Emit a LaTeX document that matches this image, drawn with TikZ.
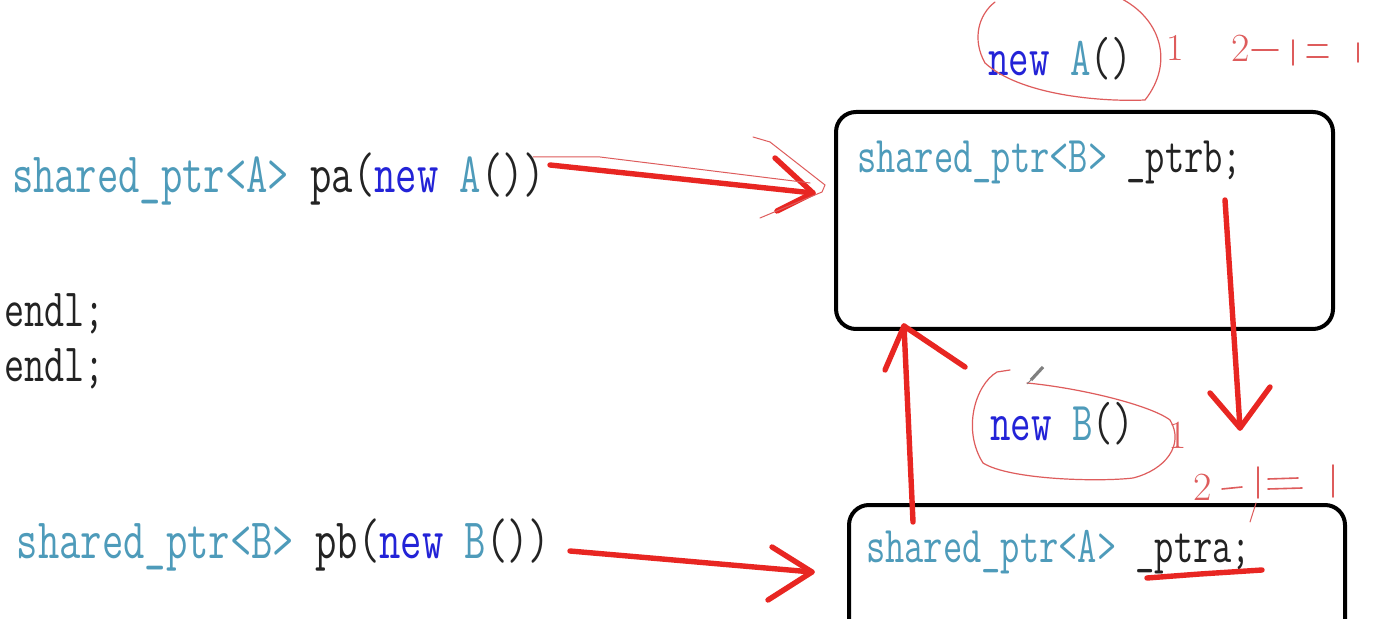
\documentclass[tikz,border=0pt]{standalone}
\usepackage{fontspec}
\usepackage{graphicx}
\newfontfamily\cjk{Noto Sans CJK SC}
\definecolor{teal1}{RGB}{78,155,186}
\definecolor{newblue}{RGB}{35,35,215}
\definecolor{darktext}{RGB}{35,35,35}
\definecolor{redink}{RGB}{232,38,34}
\definecolor{thinink}{RGB}{222,92,92}
\newcommand\codetxt[2]{\scalebox{1}[1.38]{\fontsize{#1}{#1}\selectfont\ttfamily #2}}
\newcommand\tl[1]{\textcolor{teal1}{#1}}
\newcommand\nb[1]{\textcolor{newblue}{#1}}
\newcommand\dk[1]{\textcolor{darktext}{#1}}
\tikzset{
  codenode/.style={anchor=base west, inner sep=0pt, outer sep=0pt},
  boxframe/.style={draw=black, line width=2pt, rounded corners=10pt, inner sep=0pt},
  redstroke/.style={draw=redink, line width=2.7pt, line cap=round, line join=round},
  thinred/.style={draw=thinink, line width=0.5pt, line cap=round},
  handred/.style={draw=thinink, line width=0.8pt, line cap=round},
  handnum/.style={anchor=base west, inner sep=0pt, text=thinink}
}
\begin{document}
\begin{tikzpicture}[x=0.5pt,y=-0.5pt]
\useasboundingbox (0,0) rectangle (1395,619);
\fill[white] (0,0) rectangle (1395,619);

% boxes
\node[boxframe, minimum width=248.5pt, minimum height=108.5pt] (boxA) at (1084.5,220.5) {};
\node[boxframe, minimum width=248pt, minimum height=100pt] (boxB) at (1097,605) {};

% code texts
\node[codenode] (pa) at (12,193) {\codetxt{20.7pt}{\tl{shared\_ptr<A>} \dk{pa(}\nb{new} \tl{A}\dk{())}}};
\node[codenode] (pb) at (17,558) {\codetxt{20.7pt}{\tl{shared\_ptr<B>} \dk{pb(}\nb{new} \tl{B}\dk{())}}};
\node[codenode] (endlA) at (4,327) {\codetxt{19.5pt}{\dk{endl;}}};
\node[codenode] (endlB) at (4,382) {\codetxt{19.5pt}{\dk{endl;}}};
\node[codenode] (ptrb) at (857,173) {\codetxt{18.7pt}{\tl{shared\_ptr<B>} \dk{\_ptrb;}}};
\node[codenode] (ptra) at (866,562) {\codetxt{18.7pt}{\tl{shared\_ptr<A>} \dk{\_ptra;}}};
\node[codenode] (newA) at (988,76) {\codetxt{19.9pt}{\nb{new} \tl{A}\dk{()}}};
\node[codenode] (newB) at (990,440) {\codetxt{19.9pt}{\nb{new} \tl{B}\dk{()}}};

% hand-drawn loops
\draw[thinred, line width=0.6pt] (1120,-2) .. controls (1160,18) and (1175,62) .. (1145,100)
   .. controls (1100,102) and (1020,95) .. (985,63)
   .. controls (972,40) and (978,15) .. (995,2);
\draw[thinred, line width=0.6pt] (1010,370) -- (997,372)
   .. controls (975,385) and (962,430) .. (983,463)
   .. controls (1010,480) and (1100,482) .. (1133,478)
   .. controls (1165,470) and (1185,445) .. (1170,420)
   .. controls (1150,405) and (1080,388) .. (1027,383);
% pencil cursor
\draw[gray, line width=1.6pt] (1043,367) -- (1031,380);
\draw[gray, line width=0.5pt] (1031,380) -- (1027,384);

% hand numbers
\node[handnum, font=\fontsize{19pt}{19pt}\selectfont] (oneA) at (1166,61) {1};
\node[handnum, font=\fontsize{20pt}{20pt}\selectfont] (twoA) at (1231,62) {2};
\node[handnum, font=\fontsize{20pt}{20pt}\selectfont] (oneB) at (1168,448) {1};
\node[handnum, font=\fontsize{20pt}{20pt}\selectfont] (twoB) at (1193,500) {2};
% top marks
\draw[handred] (1252,50) -- (1278,50);
\draw[handred] (1293,40) -- (1293,65);
\draw[handred] (1308,45) -- (1327,45);
\draw[handred] (1307,57) -- (1328,57);
\draw[handred] (1358,43) -- (1358,62);
% bottom marks
\draw[handred] (1222,489) -- (1242,487);
\draw[handred] (1258,467) -- (1258,498);
\draw[handred] (1268,479) -- (1298,478);
\draw[handred] (1268,489) -- (1302,488);
\draw[handred] (1333,465) -- (1333,497);
\draw[thinred] (1256,503) -- (1250,522);

% arrow pa -> boxA
\coordinate (a1s) at (550,165);
\coordinate (a1t) at (813,193);
\draw[redstroke] (a1s) -- (a1t);
\draw[redstroke] (775,158) -- (a1t) -- (777,211);
\draw[thinred] (533,157) -- (600,157) -- (810,183);
\draw[thinred] (753,137) -- (770,142) -- (825,185) -- (822,192) -- (760,218);

% arrow pb -> boxB
\coordinate (a2s) at (570,551);
\coordinate (a2t) at (812,572);
\draw[redstroke] (a2s) -- (a2t);
\draw[redstroke] (772,547) -- (a2t) -- (768,600);

% arrow _ptrb down to boxB
\coordinate (a3s) at (1225,200);
\coordinate (a3t) at (1240,428);
\draw[redstroke] (a3s) -- (a3t);
\draw[redstroke] (1210,393) -- (a3t) -- (1270,387);

% arrow _ptra up to boxA
\coordinate (a4s) at (913,522);
\coordinate (a4t) at (904,326);
\draw[redstroke] (a4s) -- (a4t);
\draw[redstroke] (885,370) -- (a4t) -- (965,367);

% underline _ptra
\draw[redstroke] (1147,578) -- (1200,574) -- (1262,570);
\end{tikzpicture}
\end{document}
